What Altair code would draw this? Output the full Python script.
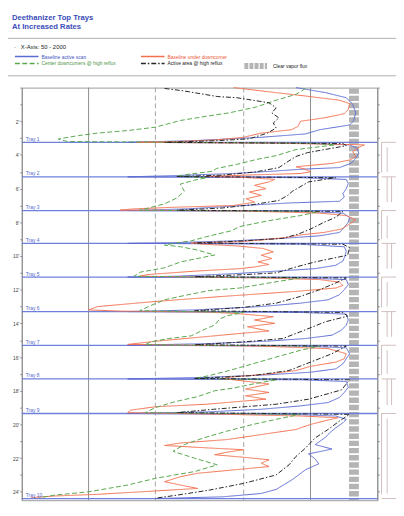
import altair as alt
import pandas as pd

# ---------------- data ----------------
tray_names = ["Tray 1", "Tray 2", "Tray 3", "Tray 4", "Tray 5",
              "Tray 6", "Tray 7", "Tray 8", "Tray 9", "Tray 10"]
tray_ft = [3.25, 5.3, 7.3, 9.25, 11.25, 13.3, 15.3, 17.3, 19.35, 24.4]

# legend order (filled column by column): blue, green | orange, black
series_names = ["Baseline active scan", "Center downcomers @ high reflux",
                "Baseline under downcomer", "Active area @ high reflux"]
series_colors = ["#5b6bd2", "#58a84e", "#f2704e", "#262626"]
label_colors = ["#4455c0", "#4f9447", "#ee5a36", "#222222"]
series_dash = [[1, 0], [5, 2.5], [1, 0], [5, 2, 1.5, 2]]

# Baseline active scan (blue)
active_ft = [0.0, 0.3, 0.6, 1.0, 1.5, 2.0, 2.22, 2.5, 2.75, 2.95, 3.15, 3.25,
             3.3, 3.4, 3.6, 3.9, 4.2, 4.5, 4.75, 4.85, 4.95, 5.1, 5.22, 5.3,
             5.35, 5.45, 5.7, 6.0, 6.3, 6.5, 6.75, 6.85, 7.0, 7.2, 7.3,
             7.35, 7.45, 7.7, 8.0, 8.3, 8.6, 8.8, 8.95, 9.1, 9.2, 9.25,
             9.3, 9.45, 9.7, 10.0, 10.3, 10.55, 10.75, 10.9, 11.05, 11.2, 11.25,
             11.3, 11.4, 11.7, 12.0, 12.3, 12.6, 12.8, 13.0, 13.2, 13.3,
             13.35, 13.45, 13.8, 14.1, 14.4, 14.7, 14.9, 15.05, 15.2, 15.3,
             15.35, 15.45, 15.8, 16.1, 16.4, 16.7, 16.9, 17.05, 17.2, 17.3,
             17.35, 17.45, 17.8, 18.1, 18.4, 18.7, 18.9, 19.1, 19.25, 19.35,
             19.4, 19.5, 19.7, 19.9, 20.2, 20.5, 20.76, 21.2, 21.46, 21.75,
             22.05, 22.34, 22.69, 23.27, 23.86, 24.1, 24.3, 24.4]
active_cnt = [860, 1170, 1450, 1550, 1600, 1560, 1500, 1100, 950, 600, 300, 150,
              900, 1500, 1620, 1650, 1600, 1520, 1350, 900, 700, 450, 250, 150,
              900, 1450, 1480, 1450, 1400, 1420, 1350, 800, 500, 280, 150,
              900, 1400, 1500, 1480, 1420, 1350, 1100, 750, 450, 250, 150,
              900, 1420, 1450, 1430, 1400, 1300, 1050, 700, 450, 250, 150,
              900, 1450, 1480, 1420, 1350, 1200, 900, 600, 300, 150,
              900, 1450, 1480, 1450, 1380, 1250, 950, 650, 350, 150,
              900, 1450, 1500, 1450, 1400, 1300, 1000, 650, 350, 150,
              900, 1450, 1480, 1420, 1350, 1200, 900, 600, 350, 150,
              800, 1300, 1450, 1400, 1300, 1220, 1170, 1050, 1250, 980,
              1050, 1090, 950, 830, 700, 600, 400, 200]

# Baseline under downcomer (orange)
under_ft = [0.0, 0.3, 0.5, 0.75, 0.95, 1.3, 1.55, 1.8, 2.0, 2.3, 2.5, 2.7, 2.95, 3.1, 3.2, 3.25,
            3.3, 3.4, 3.55, 3.8, 4.1, 4.3, 4.5, 4.7, 4.85, 5.0, 5.1, 5.2, 5.27,
            5.33, 5.45, 5.6, 5.8, 6.0, 6.2, 6.4, 6.6, 6.8, 7.0, 7.1, 7.2, 7.27,
            7.33, 7.45, 7.6, 7.85, 8.1, 8.4, 8.6, 8.75, 8.9, 9.05, 9.15, 9.22,
            9.3, 9.4, 9.55, 9.75, 9.95, 10.15, 10.35, 10.5, 10.65, 10.75, 10.9, 11.1, 11.2,
            11.3, 11.4, 11.55, 11.75, 11.9, 12.1, 12.4, 12.7, 13.0, 13.2, 13.27,
            13.33, 13.4, 13.6, 13.8, 14.0, 14.2, 14.45, 14.6, 14.85, 15.05, 15.25,
            15.35, 15.5, 15.8, 16.1, 16.3, 16.55, 16.8, 17.0, 17.2, 17.28,
            17.35, 17.6, 17.9, 18.1, 18.3, 18.5, 18.8, 18.95, 19.15, 19.3,
            19.4, 19.5, 19.6, 19.8, 20.0, 20.3, 20.6, 20.9, 21.1, 21.25, 21.4, 21.5,
            21.65, 21.8, 21.95, 22.1, 22.3, 22.5, 22.7, 22.9, 23.1, 23.4, 23.6, 23.8,
            23.95, 24.15, 24.25, 24.35]
under_cnt = [450, 700, 950, 1350, 1500, 1480, 1420, 1150, 900, 880, 820, 600, 500, 380, 250, 165,
             700, 1750, 1650, 1550, 1600, 1500, 1250, 860, 950, 1000, 900, 500, 340,
             500, 690, 650, 560, 630, 530, 600, 513, 560, 450, 250, 160, 139,
             500, 1100, 1450, 1600, 1500, 1380, 1150, 900, 776, 600, 480, 290,
             330, 465, 610, 680, 600, 670, 580, 650, 560, 480, 300, 185, 170,
             600, 1100, 1350, 1400, 1300, 860, 400, 200, 110, 100, 140,
             340, 450, 680, 560, 690, 520, 650, 480, 300, 205, 150,
             600, 1200, 1450, 1420, 1300, 1000, 860, 650, 430, 400,
             450, 650, 510, 650, 510, 630, 340, 200, 155, 150,
             420, 900, 1330, 1150, 1000, 860, 600, 420, 260, 220, 350, 500,
             420, 370, 500, 650, 600, 650, 450, 310, 260, 220, 260, 310,
             200, 110, 70, 55]

# Center downcomers @ high reflux (green dashed)
center_ft = [0.05, 0.4, 0.75, 1.15, 1.5, 1.7, 1.95, 2.35, 2.55, 2.7, 2.85, 3.05, 3.2,
             3.3, 3.4, 3.68, 4.04, 4.27, 4.56, 4.8, 4.97, 5.15, 5.27,
             5.35, 5.5, 5.73, 6.15, 6.55, 6.9, 7.2, 7.28,
             7.35, 7.6, 7.9, 8.25, 8.5, 8.85, 9.1, 9.22,
             9.35, 9.45, 9.65, 9.94, 10.35, 10.7, 10.95, 11.2,
             11.3, 11.6, 11.9, 12.05, 12.3, 12.6, 12.95, 13.25,
             13.35, 13.55, 13.74, 14.1, 14.3, 14.74, 14.9, 15.1, 15.27,
             15.35, 15.6, 16.0, 16.4, 16.8, 17.1, 17.27,
             17.35, 17.6, 17.84, 18.0, 18.35, 18.65, 19.0, 19.3,
             19.4, 19.7, 20.0, 20.4, 20.8, 21.2, 21.6, 22.0, 22.4, 22.8, 23.2,
             23.6, 24.0, 24.2, 24.35]
center_cnt = [950, 860, 700, 570, 430, 340, 260, 200, 150, 110, 90, 73, 80,
              1000, 1290, 860, 700, 570, 465, 378, 360, 280, 250,
              340, 300, 259, 270, 250, 220, 180, 170,
              1100, 900, 650, 480, 440, 340, 290, 250,
              220, 260, 310, 370, 260, 220, 172, 160,
              900, 650, 480, 350, 280, 220, 190, 170,
              500, 420, 390, 370, 340, 290, 230, 190, 180,
              1100, 900, 700, 550, 430, 350, 300,
              700, 550, 450, 370, 310, 245, 200, 180,
              900, 700, 550, 420, 330, 270, 240, 300, 380, 300, 200,
              150, 100, 70, 60]

# Active area @ high reflux (black dash-dot)
hiact_ft = [0.05, 0.2, 0.53, 0.6, 0.9, 1.2, 1.5, 1.8, 2.1, 2.4, 2.7, 3.04, 3.15, 3.25,
            3.32, 3.45, 3.86, 4.09, 4.35, 4.75, 5.0, 5.2, 5.28,
            5.35, 5.44, 5.6, 6.15, 6.4, 6.7, 6.95, 7.15, 7.28,
            7.35, 7.7, 8.0, 8.4, 8.7, 8.95, 9.1, 9.23,
            9.3, 9.5, 9.95, 10.35, 10.65, 11.0, 11.1, 11.23,
            11.3, 11.6, 12.0, 12.4, 12.8, 13.05, 13.25,
            13.35, 13.57, 13.9, 14.45, 14.9, 15.1, 15.27,
            15.35, 15.8, 16.3, 16.8, 17.1, 17.27,
            17.35, 17.95, 18.5, 18.8, 19.1, 19.3,
            19.4, 19.8, 20.3, 20.8, 21.4, 21.9, 22.4, 23.0, 23.5, 23.9, 24.2, 24.38]
hiact_cnt = [220, 270, 380, 465, 650, 700, 670, 720, 680, 700, 640, 530, 380, 220,
             1400, 1450, 970, 860, 800, 720, 570, 400, 250,
             1300, 1170, 980, 830, 790, 720, 550, 400, 250,
             1400, 1300, 1150, 1000, 880, 750, 500, 300,
             1400, 1500, 1470, 1050, 860, 700, 510, 300,
             1450, 1300, 1100, 900, 700, 500, 300,
             1400, 1470, 1170, 920, 750, 500, 300,
             1450, 1250, 1000, 800, 550, 300,
             1500, 1380, 980, 700, 365, 250,
             1500, 1350, 1200, 1050, 950, 860, 800, 700, 500, 350, 250, 200]

vapor_name = ["Clear vapor flux"]
vapor_cnt = [1570]
vapor_top = [0.05]
vapor_bottom = [24.5]

solid_grid = [100, 1000]
dashed_grid = [200, 500]
x_ticks = [50, 60, 70, 80, 90, 100, 200, 300, 400, 500, 600, 700, 800, 900, 1000, 2000]
y_ticks = list(range(0, 25))

# tray schematic columns (drawn right of the 2000 line)
sch_left, sch_in1, sch_in2, sch_right = 2090, 2215, 2320, 2480

# ---------------- build tables ----------------
df = pd.concat([
    pd.DataFrame({"series": "Baseline active scan", "ft": active_ft, "cnt": active_cnt}),
    pd.DataFrame({"series": "Baseline under downcomer", "ft": under_ft, "cnt": under_cnt}),
    pd.DataFrame({"series": "Center downcomers @ high reflux", "ft": center_ft, "cnt": center_cnt}),
    pd.DataFrame({"series": "Active area @ high reflux", "ft": hiact_ft, "cnt": hiact_cnt}),
], ignore_index=True)

trays_df = pd.DataFrame({"name": tray_names, "ft": tray_ft})
vapor_df = pd.DataFrame({"kind": vapor_name, "cnt": vapor_cnt,
                         "top": vapor_top, "bottom": vapor_bottom})

segs = []
for i in range(len(tray_ft) - 1):
    top, bot = tray_ft[i], tray_ft[i + 1]
    segs.append((sch_left, sch_right, top, top))
    if i % 2 == 0:
        segs += [(sch_left, sch_left, top, bot - 0.25),
                 (sch_right, sch_right, top, bot - 0.25),
                 (sch_in1, sch_in1, top + 0.3, bot - 0.3)]
    else:
        segs += [(sch_in1, sch_in1, top, bot - 0.5),
                 (sch_in2, sch_in2, top, bot - 0.5)]
segs.append((sch_left, sch_right, tray_ft[-1], tray_ft[-1]))
sch_df = pd.DataFrame(segs, columns=["x", "x2", "y", "y2"])

# ---------------- scales / guides ----------------
x_scale = alt.Scale(type="log", domain=[50, 2000], nice=False)
y_scale = alt.Scale(domain=[0, 24.5], reverse=True, nice=False, zero=False)

top_axis = alt.Axis(orient="top", values=x_ticks, title=None, grid=False,
                    labelExpr="datum.value == 100 || datum.value == 1000 ? format(datum.value, 'd') : ''",
                    labelFontSize=5.5, labelPadding=1, tickSize=3, labelColor="#333",
                    domainColor="#8a8a8a", tickColor="#8a8a8a", labelOverlap=False, labelFlush=False)
left_axis = alt.Axis(orient="left", values=y_ticks, title=None, grid=False,
                     labelExpr="datum.value % 2 == 0 && datum.value > 0 ? datum.value + \"'\" : ''",
                     labelFontSize=5, labelPadding=1, tickSize=2, labelColor="#444",
                     domainColor="#8a8a8a", tickColor="#8a8a8a", labelOverlap=False)
right_axis = alt.Axis(orient="right", values=y_ticks, title=None, grid=False, labels=False,
                      tickSize=2, domainColor="#8a8a8a", tickColor="#8a8a8a")

label_expr = " : ".join(
    f"datum.value == '{n}' ? '{c}'" for n, c in zip(series_names[:-1], label_colors[:-1])
) + f" : '{label_colors[-1]}'"

legend_main = alt.Legend(
    orient="none", legendX=-8, legendY=-44, columns=2,
    title="\u00b7\u00a0\u00a0\u00a0X-Axis: 50 - 2000", titleFontSize=6, titleFontWeight="normal",
    titleColor="#222", titlePadding=3, titleFont="Liberation Sans",
    labelFont="Liberation Sans", labelFontSize=5, labelColor={"expr": label_expr},
    symbolType="stroke", symbolSize=576, symbolStrokeWidth=1.5, clipHeight=7,
    rowPadding=0, columnPadding=24, labelOffset=2, labelLimit=200)

legend_vapor = alt.Legend(
    orient="none", legendX=223, legendY=-25.5, title=None,
    symbolType="stroke", symbolSize=529, symbolStrokeWidth=6, symbolDash=[4, 1.2],
    symbolStrokeColor="#b4b4b4", labelFont="Liberation Sans", labelFontSize=5,
    labelColor="#222", clipHeight=7, labelOffset=3)

# ---------------- layers ----------------
grid_solid = alt.Chart(pd.DataFrame({"cnt": solid_grid})).mark_rule(
    color="#8c8c8c", strokeWidth=1).encode(x=alt.X("cnt:Q", scale=x_scale, axis=None))
grid_dash = alt.Chart(pd.DataFrame({"cnt": dashed_grid})).mark_rule(
    color="#9a9a9a", strokeWidth=0.9, strokeDash=[5, 3]).encode(
    x=alt.X("cnt:Q", scale=x_scale, axis=None))

vapor = alt.Chart(vapor_df).mark_rule(strokeWidth=10, strokeDash=[5.5, 1.8], color="#b4b4b4").encode(
    x=alt.X("cnt:Q", scale=x_scale, axis=None),
    y=alt.Y("top:Q", scale=y_scale, axis=None), y2="bottom:Q",
    opacity=alt.Opacity("kind:O", scale=alt.Scale(range=[1]), legend=legend_vapor))

tray_lines = alt.Chart(trays_df).mark_rule(color="#6f80dc", strokeWidth=1.3).encode(
    y=alt.Y("ft:Q", scale=y_scale, axis=right_axis))

lines = alt.Chart(df).mark_line(strokeWidth=1).encode(
    x=alt.X("cnt:Q", scale=x_scale, axis=top_axis),
    y=alt.Y("ft:Q", scale=y_scale, axis=left_axis),
    color=alt.Color("series:N", scale=alt.Scale(domain=series_names, range=series_colors),
                    legend=legend_main),
    strokeDash=alt.StrokeDash("series:N", scale=alt.Scale(domain=series_names, range=series_dash),
                              legend=legend_main),
    order=alt.Order("ft:Q"))

tray_text = alt.Chart(trays_df).mark_text(
    align="left", baseline="bottom", fontSize=5, color="#5566cc", dy=-0.5).encode(
    x=alt.value(4), y=alt.Y("ft:Q", scale=y_scale, axis=None), text="name:N")

schematic = alt.Chart(sch_df).mark_rule(color="#c6aeae", strokeWidth=0.8).encode(
    x=alt.X("x:Q", scale=x_scale, axis=None), x2="x2:Q",
    y=alt.Y("y:Q", scale=y_scale, axis=None), y2="y2:Q")

one = pd.DataFrame({"k": [0]})
sep_top = alt.Chart(one).mark_rule(color="#b0b0b0", strokeWidth=1).encode(
    x=alt.value(-14), x2=alt.value(380), y=alt.value(-50))
sep_low = alt.Chart(one).mark_rule(color="#b0b0b0", strokeWidth=1).encode(
    x=alt.value(-14), x2=alt.value(380), y=alt.value(-12))

chart = alt.layer(
    grid_solid, grid_dash, vapor, tray_lines, lines, tray_text, schematic, sep_top, sep_low
).resolve_axis(y="independent").properties(
    width=361, height=419,
    padding={"left": 14, "top": 77, "right": 19, "bottom": 0},
    autosize=alt.AutoSizeParams(type="none"),
    title=alt.TitleParams(text=["Deethanizer Top Trays", "At Increased Rates"],
                          anchor="start", frame="group", dx=-10, offset=7,
                          fontSize=7.8, fontWeight="bold", color="#3a4db8",
                          lineHeight=9, font="Liberation Sans"),
).configure(font="Liberation Sans").configure_view(stroke="#999999", strokeWidth=1)

chart.save("out.html", embed_options={"renderer": "svg", "actions": False})
